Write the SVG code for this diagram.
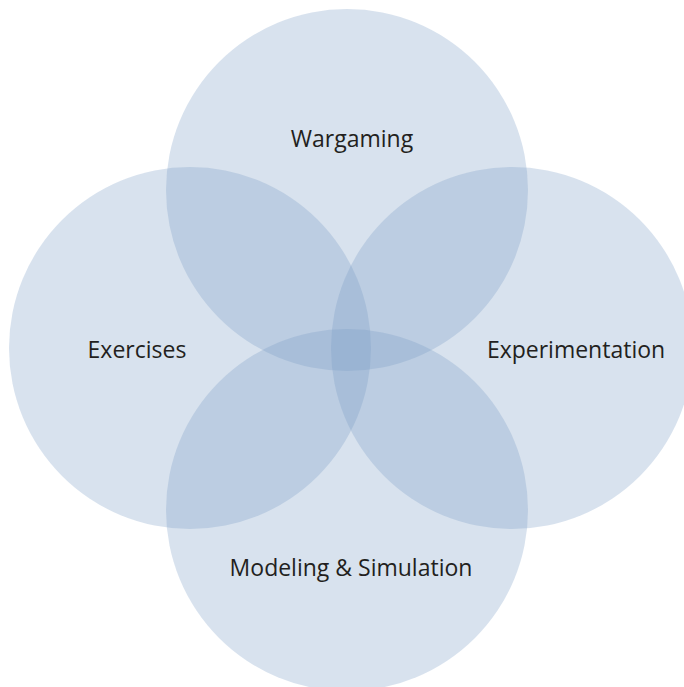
<svg xmlns="http://www.w3.org/2000/svg" width="684" height="687" viewBox="0 0 684 687">
  <style>
    .disc { fill: rgb(120,155,195); fill-opacity: 0.29; }
    .label { font-family: "Open Sans", "Noto Sans", "DejaVu Sans", sans-serif; font-size: 23px; fill: #231f20; text-anchor: middle; }
  </style>
  <rect width="684" height="687" fill="#ffffff"/>
  <g id="wargaming">
    <circle class="disc" cx="347" cy="190" r="181"/>
    <text class="label" x="352" y="147">Wargaming</text>
  </g>
  <g id="exercises">
    <circle class="disc" cx="190" cy="348" r="181"/>
    <text class="label" x="137" y="358">Exercises</text>
  </g>
  <g id="experimentation">
    <circle class="disc" cx="512" cy="348" r="181"/>
    <text class="label" x="576" y="358">Experimentation</text>
  </g>
  <g id="modeling-simulation">
    <circle class="disc" cx="347" cy="510" r="181"/>
    <text class="label" x="351" y="576">Modeling &amp; Simulation</text>
  </g>
  <g id="connectors"/>
</svg>
